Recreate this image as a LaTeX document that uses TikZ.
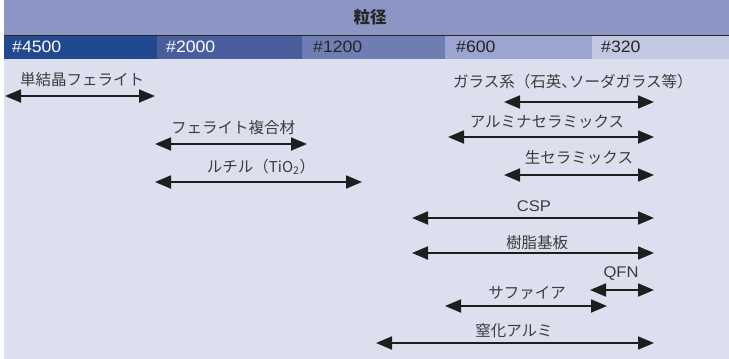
\documentclass[tikz,border=0pt]{standalone}
\usepackage{fontspec}
\setmainfont{Liberation Sans}[FakeStretch=1.07]
\newfontfamily\jp{Noto Sans CJK JP}
\newfontfamily\jphalt{Noto Sans CJK JP}[RawFeature=+halt]
\usetikzlibrary{arrows.meta}
\definecolor{hdr}{RGB}{140,150,196}
\definecolor{bodyc}{RGB}{220,224,238}
\definecolor{bA}{RGB}{34,72,143}
\definecolor{bB}{RGB}{74,94,158}
\definecolor{bC}{RGB}{110,126,179}
\definecolor{bD}{RGB}{155,165,207}
\definecolor{bE}{RGB}{195,200,226}
\definecolor{txtgray}{RGB}{60,60,60}
\definecolor{arrowc}{RGB}{30,30,30}
\tikzset{
  lbl/.style={font=\fontsize{15.5}{17}\jp, text=txtgray, inner sep=0pt, anchor=center},
  rng/.style={{Triangle[length=16pt,width=13pt]}-{Triangle[length=16pt,width=13pt]}, line width=1.8pt, draw=arrowc},
  bandlbl/.style={font=\fontsize{16.5}{18}\selectfont, inner sep=0pt, anchor=west},
}
\begin{document}
\begin{tikzpicture}[x=1pt,y=-1pt]
\useasboundingbox (0,0) rectangle (729,359);
\fill[white] (0,0) rectangle (729,359);
% background areas
\fill[hdr] (4,0) rectangle (729,35);
\fill[bodyc] (4,59) rectangle (729,359);
\fill[bA] (4,35) rectangle (157,59);
\fill[bB] (157,35) rectangle (302,59);
\fill[bC] (302,35) rectangle (445,59);
\fill[bD] (445,35) rectangle (592,59);
\fill[bE] (592,35) rectangle (729,59);
\draw[line width=1pt, black!85] (4,35) -- (729,35);
% header
\node[font=\fontsize{16.5}{18}\jp\bfseries, text=black!85, inner sep=0pt] (title) at (370,17) {粒径};
\node[bandlbl, text=white] (g4500) at (12,47) {\#4500};
\node[bandlbl, text=white] (g2000) at (166,47) {\#2000};
\node[bandlbl, text=black!85] (g1200) at (313,47) {\#1200};
\node[bandlbl, text=black!85] (g600) at (456,47) {\#600};
\node[bandlbl, text=black!85] (g320) at (601,47) {\#320};
% labels
\node[lbl] (t1) at (82,80) {単結晶フェライト};
\node[lbl] (t2) at (569,82) {ガラス系（石英{\jphalt 、}ソーダガラス等{\jphalt ）}};
\node[lbl] (t3) at (547,122) {アルミナセラミックス};
\node[lbl] (t4) at (233,128) {フェライト複合材};
\node[lbl] (t5) at (579,158) {生セラミックス};
\node[lbl] (t6) at (261,167) {ルチル（{\fontsize{15}{16}\selectfont TiO\textsubscript{2}}）};
\node[lbl, font=\fontsize{15.5}{17}\selectfont] (t7) at (534,206) {CSP};
\node[lbl] (t8) at (537,243) {樹脂基板};
\node[lbl, font=\fontsize{15.5}{17}\selectfont] (t9) at (621,274) {QFN};
\node[lbl] (t10) at (527,293) {サファイア};
\node[lbl] (t11) at (514,331) {窒化アルミ};
% arrow ends
\coordinate (a1l) at (5,96);    \coordinate (a1r) at (155,96);
\coordinate (a2l) at (504,102); \coordinate (a2r) at (654,102);
\coordinate (a3l) at (448,137); \coordinate (a3r) at (654,137);
\coordinate (a4l) at (155,144); \coordinate (a4r) at (307,144);
\coordinate (a5l) at (504,175); \coordinate (a5r) at (654,175);
\coordinate (a6l) at (155,182); \coordinate (a6r) at (362,182);
\coordinate (a7l) at (412,218); \coordinate (a7r) at (654,218);
\coordinate (a8l) at (412,253); \coordinate (a8r) at (654,253);
\coordinate (a9l) at (590,290); \coordinate (a9r) at (654,290);
\coordinate (a10l) at (445,306); \coordinate (a10r) at (607,306);
\coordinate (a11l) at (376,343); \coordinate (a11r) at (654,343);
\foreach \i in {1,...,11} {\draw[rng] (a\i l) -- (a\i r);}
\end{tikzpicture}
\end{document}
